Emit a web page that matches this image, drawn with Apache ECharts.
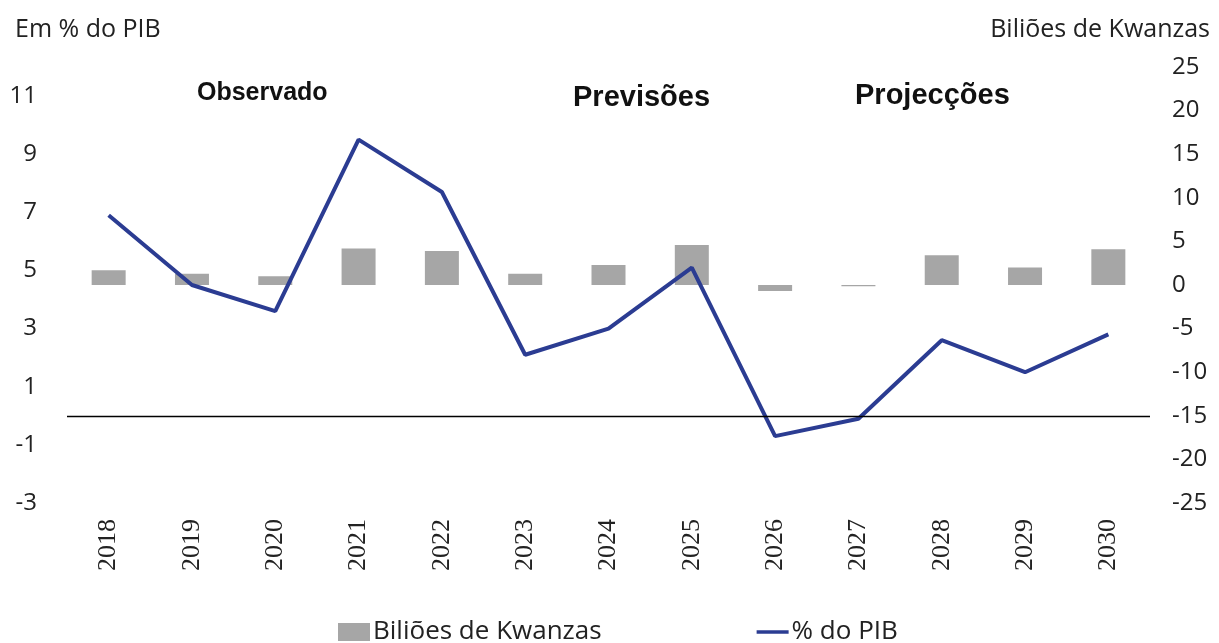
<!DOCTYPE html>
<html>
<head>
<meta charset="utf-8">
<script src="https://cdn.jsdelivr.net/npm/echarts@6/dist/echarts.min.js"></script>
<style>html,body{margin:0;padding:0;background:#fff}#c{width:1219px;height:643px}</style>
</head>
<body>
<div id="c"></div>
<script>
const years = ['2018','2019','2020','2021','2022','2023','2024','2025','2026','2027','2028','2029','2030'];
const kwanzas = [1.7, 1.3, 1.0, 4.2, 3.9, 1.3, 2.3, 4.6, -0.7, -0.15, 3.4, 2.0, 4.1];
const pctPib = [6.9, 4.5, 3.6, 9.5, 7.7, 2.1, 3.0, 5.1, -0.7, -0.1, 2.6, 1.5, 2.8];
const leftTitle = 'Em % do PIB';
const rightTitle = 'Biliões de Kwanzas';
const seriesNames = ['Biliões de Kwanzas', '% do PIB'];
const periodLabels = ['Observado', 'Previsões', 'Projecções'];

const chart = echarts.init(document.getElementById('c'));
const tickFont = { fontFamily: 'Open Sans', fontSize: 24, color: '#222' };
chart.setOption({
  animation: false,
  backgroundColor: '#fff',
  grid: { left: 67, right: 69, top: 67, bottom: 140 },
  title: [
    { text: leftTitle, left: 10, top: 12, textStyle: { fontFamily: 'Open Sans', fontSize: 25, fontWeight: 'normal', color: '#222' } },
    { text: rightTitle, right: 4, top: 12, textStyle: { fontFamily: 'Open Sans', fontSize: 25, fontWeight: 'normal', color: '#222' } }
  ],
  graphic: [
    { type: 'text', left: 197, top: 81, style: { text: periodLabels[0], font: 'bold 25px "Liberation Sans", Arial', fill: '#111' } },
    { type: 'text', left: 573, top: 83, style: { text: periodLabels[1], font: 'bold 29px "Liberation Sans", Arial', fill: '#111' } },
    { type: 'text', left: 855, top: 81, style: { text: periodLabels[2], font: 'bold 29px "Liberation Sans", Arial', fill: '#111' } }
  ],
  legend: {
    left: 333, top: 614, itemGap: 155, itemWidth: 32, itemHeight: 18,
    textStyle: { fontFamily: 'Open Sans', fontSize: 26, color: '#222', padding: [0,0,0,-2] },
    data: [
      { name: seriesNames[0], icon: 'rect' },
      { name: seriesNames[1], icon: 'path://M0,0 L36,0 L36,4 L0,4 Z' }
    ]
  },
  xAxis: {
    type: 'category', data: years,
    axisLine: { show: false }, axisTick: { show: false },
    axisLabel: { rotate: 90, margin: 16, fontFamily: 'Liberation Serif', fontSize: 26, color: '#222' }
  },
  yAxis: [
    { type: 'value', min: -3, max: 12, interval: 2, position: 'left',
      splitLine: { show: false }, axisLine: { show: false }, axisTick: { show: false },
      axisLabel: Object.assign({ margin: 30, showMaxLabel: false,
        formatter: v => (v === 12 ? '' : String(v)) }, tickFont) },
    { type: 'value', min: -25, max: 25, interval: 5, position: 'right',
      splitLine: { show: false }, axisLine: { show: false }, axisTick: { show: false },
      axisLabel: Object.assign({ margin: 22, align: 'left' }, tickFont) }
  ],
  series: [
    { name: seriesNames[0], type: 'bar', yAxisIndex: 1, data: kwanzas, barWidth: 34,
      itemStyle: { color: '#A6A6A6' } },
    { name: seriesNames[1], type: 'line', yAxisIndex: 0, data: pctPib, symbol: 'none',
      lineStyle: { color: '#2B3C92', width: 4 }, itemStyle: { color: '#2B3C92' },
      markLine: { silent: true, symbol: 'none', label: { show: false },
        lineStyle: { color: '#000', width: 1.3, type: 'solid' }, data: [ { yAxis: 0 } ] } }
  ]
});
</script>
</body>
</html>
